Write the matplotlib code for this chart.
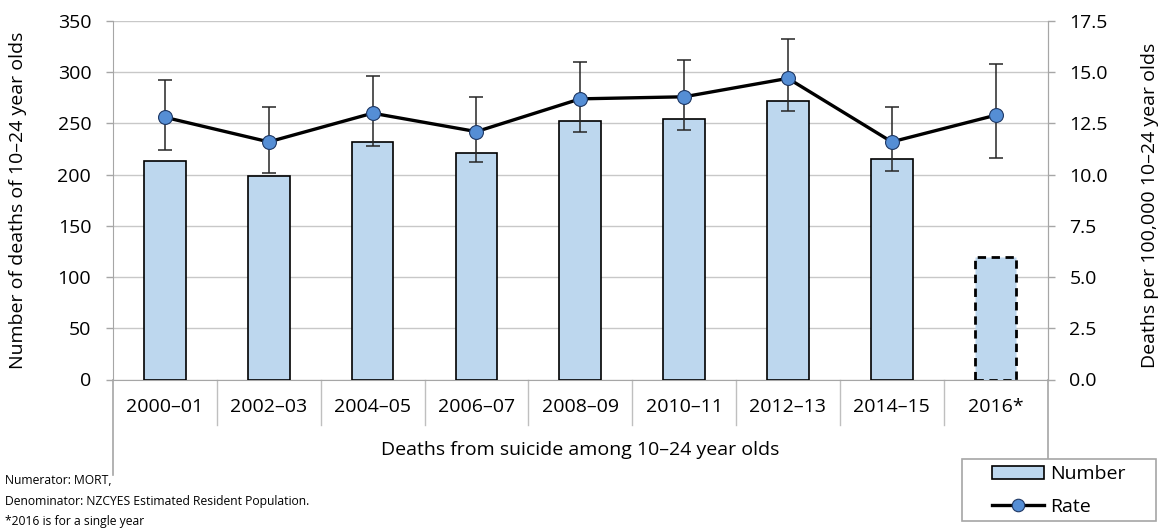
import numpy as np
import matplotlib
matplotlib.use("Agg")
import matplotlib.pyplot as plt
from matplotlib.patches import Patch, Rectangle
from matplotlib.lines import Line2D

plt.rcParams['font.family'] = ['Open Sans', 'DejaVu Sans']

# data
periods = ["2000–01", "2002–03", "2004–05", "2006–07", "2008–09",
           "2010–11", "2012–13", "2014–15", "2016*"]
deaths = [213, 199, 232, 221, 252, 254, 272, 215, 120]
rate = [12.8, 11.6, 13.0, 12.1, 13.7, 13.8, 14.7, 11.6, 12.9]
rate_lo = [11.2, 10.1, 11.4, 10.6, 12.1, 12.2, 13.1, 10.2, 10.8]
rate_hi = [14.6, 13.3, 14.8, 13.8, 15.5, 15.6, 16.6, 13.3, 15.4]
left_ticks = [0, 50, 100, 150, 200, 250, 300, 350]
right_ticks = [0, 2.5, 5, 7.5, 10, 12.5, 15, 17.5]

W, H = 1163, 528
fig = plt.figure(figsize=(W / 100, H / 100), dpi=100)
ax = fig.add_axes([113 / W, 1 - 379.5 / H, 934.5 / W, 358.5 / H])
ax2 = ax.twinx()

fs = 14
grey = '#A6A6A6'
bar_col = '#BDD7EE'

x = np.arange(len(periods))
bars = ax.bar(x, deaths, width=0.4, color=bar_col, edgecolor='black',
              linewidth=1.2, zorder=3)
# single year bar is dashed
last = bars[-1]
last.set_linestyle((0, (3, 2)))
last.set_linewidth(2.0)

ax.set_xlim(-0.5, len(periods) - 0.5)
ax.set_ylim(0, 350)
ax.set_yticks(left_ticks)
ax.grid(axis='y', color='#C8C8C8', linewidth=1, zorder=0)
ax.set_axisbelow(True)
ax.set_xticks(x)
ax.set_xticklabels(periods, fontsize=fs)
ax.tick_params(axis='x', length=0, pad=13)
ax.tick_params(axis='y', labelsize=fs, color=grey, length=4.7, width=1, pad=11)

for s in ['top']:
    ax.spines[s].set_visible(False)
    ax2.spines[s].set_visible(False)
for s in ['left', 'bottom', 'right']:
    ax.spines[s].set_color(grey)
    ax2.spines[s].set_color(grey)
ax2.spines['left'].set_visible(False)
ax2.spines['bottom'].set_visible(False)

# category separators of the multi-level axis
tr = ax.get_xaxis_transform()
for b in np.arange(0.5, len(periods) - 1, 1.0):
    ax.plot([b, b], [0, -0.128], color='#BFBFBF', lw=1, transform=tr, clip_on=False)
for b in [-0.5, len(periods) - 0.5]:
    ax.plot([b, b], [0, -0.265], color=grey, lw=1.2, transform=tr, clip_on=False)

# rate line with CIs
yerr = [np.array(rate) - np.array(rate_lo), np.array(rate_hi) - np.array(rate)]
ax2.errorbar(x, rate, yerr=yerr, fmt='none', ecolor='#262626', elinewidth=1.1,
             capsize=5, capthick=1.1, zorder=4)
ax2.plot(x, rate, color='black', lw=2.4, marker='o', markersize=10,
         markerfacecolor='#558ED5', markeredgecolor='#1F3864',
         markeredgewidth=0.8, zorder=5)
ax2.set_ylim(0, 17.5)
ax2.set_yticks(right_ticks)
ax2.set_yticklabels([f"{t:.1f}" for t in right_ticks])
ax2.tick_params(axis='y', labelsize=fs, color=grey, length=4.7, width=1, pad=11)

fig.text(18 / W, 1 - 200 / H, "Number of deaths of 10–24 year olds",
         rotation=90, ha='center', va='center', fontsize=fs)
fig.text(1150 / W, 1 - 205 / H, "Deaths per 100,000 10–24 year olds",
         rotation=90, ha='center', va='center', fontsize=fs)
fig.text(580 / W, 1 - 450 / H, "Deaths from suicide among 10–24 year olds",
         ha='center', va='center', fontsize=fs)

notes = ["Numerator: MORT,",
         "Denominator: NZCYES Estimated Resident Population.",
         "*2016 is for a single year"]
for i, n in enumerate(notes):
    fig.text(5 / W, 1 - (481 + 20 * i) / H, n, ha='left', va='center', fontsize=8.75)

# legend box
fig.add_artist(Rectangle((962 / W, 1 - 521 / H), 194 / W, 62 / H,
                         transform=fig.transFigure, facecolor='white',
                         edgecolor=grey, linewidth=1.2, zorder=4))
handles = [Patch(facecolor=bar_col, edgecolor='black', linewidth=1.2),
           Line2D([], [], color='black', lw=2.4, marker='o', markersize=9,
                  markerfacecolor='#558ED5', markeredgecolor='#1F3864',
                  markeredgewidth=0.8)]
leg = fig.legend(handles, ["Number", "Rate"], loc='center left',
                 bbox_to_anchor=(992 / W, 1 - 490.5 / H), fontsize=fs,
                 frameon=False, handlelength=2.68, handletextpad=0.3,
                 labelspacing=0.76, borderpad=0, borderaxespad=0)
leg.set_zorder(5)

fig.savefig("out.png", dpi=100)
